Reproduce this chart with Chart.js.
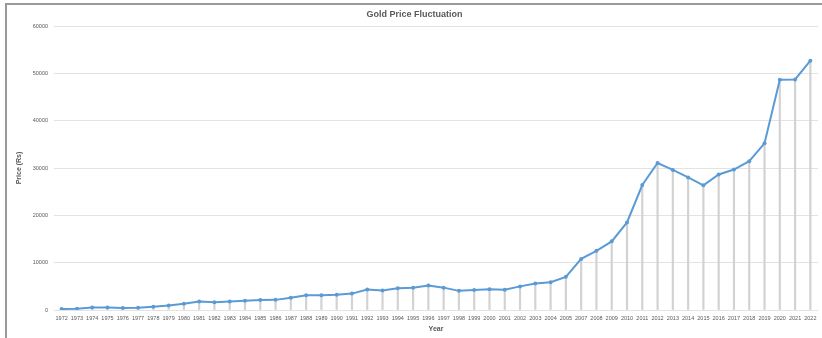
<!DOCTYPE html>
<html>
<head>
    <title>Gold Price Fluctuation</title>
    <script src="https://cdn.jsdelivr.net/npm/chart.js"></script>
    <style>
        body { margin: 0; background: #fff; }
        #frame {
            position: absolute; left: 5px; top: 3px; width: 817px; height: 335px;
            border-left: 2px solid #9a9a9a; border-top: 2px solid #9a9a9a;
        }
        #goldChart { position: absolute; left: 0; top: 0; }
    </style>
</head>
<body>
    <div id="frame"><canvas id="goldChart" width="815" height="333"></canvas></div>
    <script>
        // years as printed on the axis (2006 is not in the source table)
        const years = ['1972','1973','1974','1975','1976','1977','1978','1979','1980','1981',
            '1982','1983','1984','1985','1986','1987','1988','1989','1990','1991',
            '1992','1993','1994','1995','1996','1997','1998','1999','2000','2001',
            '2002','2003','2004','2005','2007','2008','2009','2010','2011','2012',
            '2013','2014','2015','2016','2017','2018','2019','2020','2021','2022'];

        // price in Rs
        const prices = [202, 278, 506, 540, 432, 486, 685, 937, 1330, 1800,
            1645, 1800, 1970, 2130, 2140, 2570, 3130, 3140, 3200, 3466,
            4334, 4140, 4598, 4680, 5160, 4725, 4045, 4234, 4400, 4300,
            4990, 5600, 5850, 7000, 10800, 12500, 14500, 18500, 26400, 31050,
            29600, 28006, 26343, 28623, 29667, 31438, 35220, 48651, 48720, 52670];

        const yTicks = [0, 10000, 20000, 30000, 40000, 50000, 60000];

        const gray = '#595959';

        new Chart(document.getElementById('goldChart'), {
            data: {
                labels: years,
                datasets: [
                    {
                        // drop lines
                        type: 'bar',
                        data: prices,
                        backgroundColor: '#d2d2d2',
                        barThickness: 1.5,
                        order: 1
                    },
                    {
                        type: 'line',
                        label: 'Price',
                        data: prices,
                        borderColor: '#5b9bd5',
                        backgroundColor: '#5b9bd5',
                        borderWidth: 2,
                        pointRadius: 2,
                        pointBorderWidth: 0,
                        tension: 0,
                        order: 0
                    }
                ]
            },
            options: {
                responsive: false,
                animation: false,
                devicePixelRatio: 1,
                layout: { padding: 0 },
                plugins: {
                    legend: { display: false },
                    tooltip: { enabled: false },
                    title: {
                        display: true,
                        text: 'Gold Price Fluctuation',
                        color: gray,
                        font: { family: 'Liberation Sans', size: 9, weight: 'bold' },
                        padding: { top: 4, bottom: 6.2 }
                    }
                },
                scales: {
                    x: {
                        offset: true,
                        grid: { display: false, drawTicks: false },
                        border: { display: false },
                        ticks: {
                            autoSkip: false, maxRotation: 0, minRotation: 0, padding: 5,
                            color: gray,
                            font: { family: 'Liberation Sans', size: 5.5 }
                        },
                        title: {
                            display: true, text: 'Year', color: gray,
                            font: { family: 'Liberation Sans', size: 7, weight: 'bold' },
                            padding: { top: 0, bottom: 5 }
                        },
                        afterFit: s => { s.height = 28; }
                    },
                    y: {
                        min: 0, max: 60000,
                        afterBuildTicks: s => { s.ticks = yTicks.map(v => ({ value: v })); },
                        grid: { color: '#e3e3e3', lineWidth: 1, drawTicks: false },
                        border: { display: false },
                        ticks: {
                            padding: 6, color: gray,
                            font: { family: 'Liberation Sans', size: 5.5 },
                            callback: v => String(v)
                        },
                        title: {
                            display: true, text: 'Price (Rs)', color: gray,
                            font: { family: 'Liberation Sans', size: 7, weight: 'bold' },
                            padding: { top: 8, bottom: 0 }
                        },
                        afterFit: s => { s.width = 47; }
                    }
                }
            }
        });
    </script>
</body>
</html>
